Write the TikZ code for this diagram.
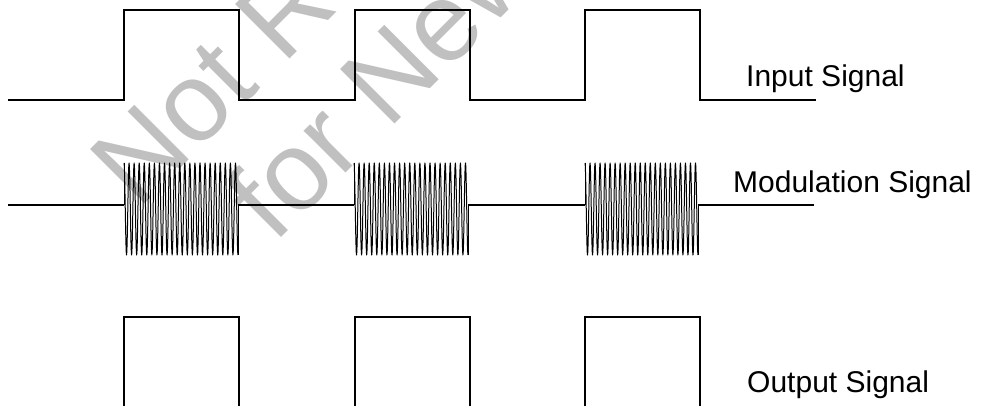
\documentclass[tikz,border=0pt]{standalone}
\usepackage{fontspec}
\setmainfont{Liberation Sans}
\definecolor{wm}{RGB}{192,192,192}
\begin{document}
\begin{tikzpicture}[x=1pt,y=-1pt,
  sig/.style={line width=1.6pt, line join=miter},
  outsig/.style={line width=1.4pt, line join=miter},
  osc/.style={line width=1pt, line join=round},
  lbl/.style={anchor=base west, inner sep=0pt, font=\fontsize{30}{36}\selectfont},
  wmk/.style={anchor=base west, inner sep=0pt, text=wm, rotate=45, font=\fontsize{112}{120}\selectfont}]
\useasboundingbox (0,0) rectangle (984,406);
\clip (0,0) rectangle (984,406);
% watermark
\node[wmk] (wm1) at (138,211) {Not Recommended};
\node[wmk] (wm2) at (274,245) {for New Designs};
% input signal
\draw[sig] (8,100) -- (124,100) -- (124,10) -- (239,10) -- (239,100) -- (355,100) -- (355,10) -- (470,10) -- (470,100) -- (585,100) -- (585,10) -- (700,10) -- (700,100) -- (816,100);
% modulation signal
\draw[sig] (8,205) -- (124,205);
\draw[sig] (238,205) -- (354,205);
\draw[sig] (468,205) -- (585,205);
\draw[sig] (698,205) -- (814,205);
\foreach \a/\b in {124/238,354/468,585/698}{
  \draw[osc] (\a,205) -- (\a,163);
  \draw[osc] plot[domain=0:8100, samples=406, variable=\p] ({\a+\p/8100*(\b-\a)},{209-46*cos(\p)});
  \draw[osc] (\b,255) -- (\b,205);
}
% output signal
\foreach \a/\b in {124/239,355/470,585/700}{
  \draw[outsig] (\a,410) -- (\a,317) -- (\b,317) -- (\b,410);
}
% labels
\node[lbl] (in) at (746,87) {Input Signal};
\node[lbl] (mod) at (733,193) {Modulation Signal};
\node[lbl] (out) at (747,392) {Output Signal};
\end{tikzpicture}
\end{document}
